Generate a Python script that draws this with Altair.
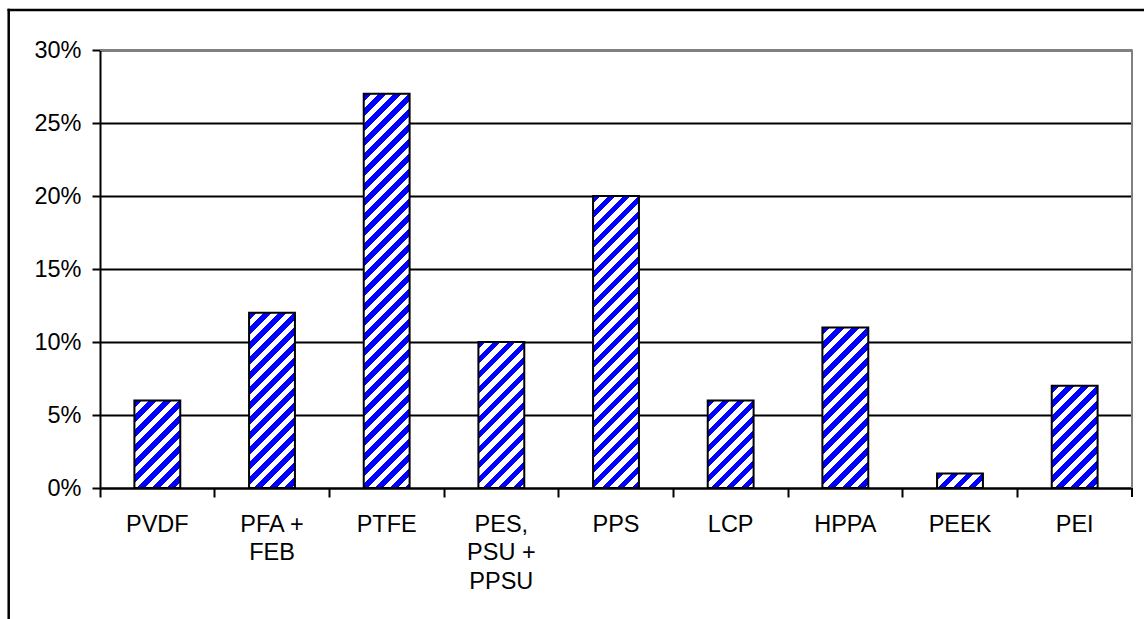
import altair as alt
import pandas as pd

# ---- data ----
categories = ["PVDF", "PFA +\nFEB", "PTFE", "PES,\nPSU +\nPPSU", "PPS", "LCP", "HPPA", "PEEK", "PEI"]
shares = [6, 12, 27, 10, 20, 6, 11, 1, 7]
y_ticks = [0, 5, 10, 15, 20, 25, 30]
y_max = 30

# ---- layout / style ----
W, H = 1032, 438
PAD = {"left": 100, "top": 50, "right": 12, "bottom": 131}
STEP = W / len(categories)
BAR_FRAC = 0.4
PERIOD = 15.0
FONT = "Liberation Sans"
FS = 23.5
BLUE = "#0000ff"

df = pd.DataFrame({"cat": categories, "share": shares})


def stripes(value):
    """Diagonal '/' stripes as a hard-stop linear gradient in the bar's bbox."""
    w = STEP * BAR_FRAC
    h = value / y_max * H
    k = (w + h) / (w * w + h * h)
    p = PERIOD / (w + h)
    stops = []
    t = 0.0
    while t < 1 - 1e-9:
        a = round(t, 5)
        b = round(min(t + p / 2, 1), 5)
        c = round(min(t + p, 1), 5)
        stops.append({"offset": a, "color": BLUE})
        stops.append({"offset": b, "color": BLUE})
        if b < 1:
            stops.append({"offset": b, "color": "#ffffff"})
            stops.append({"offset": c, "color": "#ffffff"})
        t += p
    return {"gradient": "linear", "x1": 0, "y1": 0,
            "x2": round(k * w, 5), "y2": round(k * h, 5), "stops": stops}


x_enc = alt.X(
    "cat:N",
    scale=alt.Scale(domain=categories, paddingInner=0, paddingOuter=0),
    axis=alt.Axis(
        title=None, labelAngle=0, bandPosition=0,
        labelExpr="split(datum.label, '\\n')", labelLineHeight=28.5,
        labelFont=FONT, labelFontSize=FS, labelColor="black",
        labelBaseline="top", labelAlign="center", labelPadding=15.4,
        tickSize=9, tickWidth=2, tickColor="black",
        domainColor="black", domainWidth=2,
        labelOverlap=False, labelBound=False, grid=False,
    ),
)
y_enc = alt.Y(
    "share:Q",
    scale=alt.Scale(domain=[0, y_max], nice=False, zero=True),
    axis=alt.Axis(
        title=None, values=y_ticks, labelExpr="datum.value + '%'",
        grid=True, gridColor="black", gridWidth=2, gridOpacity=1,
        tickSize=8, tickWidth=2, tickColor="black",
        domainColor="black", domainWidth=2,
        labelFont=FONT, labelFontSize=FS, labelColor="black", labelPadding=11,
    ),
)

base = alt.Chart(df)
bar_layers = []
for cat, val in zip(categories, shares):
    bar_layers.append(
        base.transform_filter(alt.datum.cat == cat)
        .mark_bar(width={"band": BAR_FRAC}, fill=stripes(val),
                  stroke="black", strokeWidth=2)
        .encode(x=x_enc, y=y_enc)
    )

one = alt.Data(values=[{"k": 0}])
plot_top = alt.Chart(one).mark_rule(color="#808080", strokeWidth=2).encode(
    x=alt.value(0), x2=alt.value(W), y=alt.value(0))
plot_right = alt.Chart(one).mark_rule(color="#808080", strokeWidth=2).encode(
    x=alt.value(W), y=alt.value(0), y2=alt.value(H))
last_tick = alt.Chart(one).mark_rule(color="black", strokeWidth=2).encode(
    x=alt.value(W), y=alt.value(H), y2=alt.value(H + 9))
frame_left = alt.Chart(one).mark_rule(color="black", strokeWidth=2.5).encode(
    x=alt.value(-91.3), y=alt.value(-41.2), y2=alt.value(H + PAD["bottom"] + 30))
frame_top = alt.Chart(one).mark_rule(color="black", strokeWidth=2.5).encode(
    x=alt.value(-92.5), x2=alt.value(W + PAD["right"] + 30), y=alt.value(-40))

chart = alt.layer(
    *bar_layers, plot_top, plot_right, last_tick, frame_left, frame_top
).properties(
    width=W, height=H, padding=PAD,
    autosize=alt.AutoSizeParams(type="none"),
    background="white",
).configure_view(stroke=None)

chart.save("out.html", embed_options={"renderer": "svg", "actions": False})
